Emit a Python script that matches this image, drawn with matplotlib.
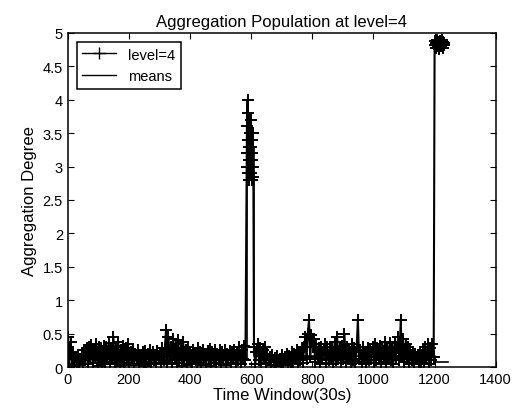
import matplotlib
matplotlib.use("Agg")
import matplotlib.pyplot as plt
import numpy as np

# Time window indices (30s windows) and aggregation degree readings
noise1_x = np.arange(1, 582, 4)
noise1_y = [0.45, 0.05, 0.38, 0.12, 0.22,
            0.02, 0.15, 0.08, 0.18, 0.03, 0.12, 0.2, 0.05, 0.25, 0.1,
            0.28, 0.04, 0.3, 0.12, 0.33, 0.06, 0.25, 0.15, 0.35, 0.02, 0.3, 0.1, 0.28, 0.05, 0.32,
            0.08, 0.3, 0.12, 0.36, 0.04, 0.28, 0.14, 0.45, 0.06, 0.3, 0.1, 0.38, 0.02, 0.25, 0.15,
            0.32, 0.05, 0.28, 0.1, 0.35,
            0.06, 0.22, 0.12, 0.25, 0.03, 0.2, 0.1, 0.26, 0.05, 0.18, 0.14, 0.22, 0.02, 0.24, 0.08,
            0.2, 0.12, 0.25, 0.04, 0.22, 0.1, 0.18, 0.06, 0.24, 0.12,
            0.2, 0.05, 0.28, 0.1, 0.25, 0.55, 0.08, 0.45, 0.15, 0.3, 0.04, 0.42, 0.12, 0.35, 0.06,
            0.4, 0.1, 0.28, 0.02, 0.38, 0.14, 0.25, 0.05, 0.3, 0.1,
            0.22, 0.04, 0.26, 0.12, 0.2, 0.06, 0.28, 0.1, 0.22, 0.03, 0.25, 0.14, 0.2, 0.05, 0.24,
            0.1, 0.27, 0.02, 0.22, 0.12, 0.25, 0.06, 0.2, 0.1, 0.26,
            0.05, 0.22, 0.12, 0.25, 0.03, 0.2, 0.1, 0.24, 0.06, 0.22, 0.14, 0.26, 0.04, 0.2, 0.1,
            0.3, 0.05, 0.25, 0.12, 0.32, 0.1]

spike_x = np.arange(585, 608)
spike_y = [3.0, 3.6, 3.2, 4.0, 2.9, 3.4, 3.8, 3.1, 3.3, 2.8, 3.5, 3.0,
           3.2, 3.7, 2.9, 3.3, 3.1, 3.4, 2.8, 3.2, 3.5, 3.0, 2.85]

noise2_x = np.arange(609, 1198, 4)
noise2_y = [0.3, 0.05, 0.22, 0.35, 0.1, 0.28, 0.04, 0.25, 0.12, 0.3, 0.06, 0.2, 0.1,
            0.15, 0.03, 0.18, 0.08, 0.14, 0.02, 0.16, 0.1, 0.12, 0.04, 0.18, 0.06, 0.15, 0.1,
            0.2, 0.03, 0.17, 0.08, 0.22, 0.05, 0.2, 0.12, 0.25, 0.04, 0.22,
            0.1, 0.28, 0.06, 0.3, 0.45, 0.12, 0.5, 0.7, 0.15, 0.48, 0.3, 0.42, 0.08, 0.35, 0.12,
            0.28, 0.05, 0.3, 0.14, 0.25, 0.35, 0.06, 0.3, 0.1, 0.26,
            0.12, 0.3, 0.04, 0.38, 0.1, 0.45, 0.15, 0.28, 0.06, 0.32, 0.12, 0.5, 0.08, 0.3, 0.14,
            0.26, 0.04, 0.35, 0.1, 0.28, 0.06, 0.3, 0.7, 0.12, 0.25,
            0.08, 0.3, 0.12, 0.22, 0.04, 0.28, 0.1, 0.25, 0.15, 0.3, 0.06, 0.35, 0.1, 0.28, 0.14,
            0.32, 0.05, 0.3, 0.12, 0.38, 0.08, 0.3, 0.15, 0.36, 0.1,
            0.3, 0.05, 0.38, 0.12, 0.28, 0.45, 0.1, 0.7, 0.15, 0.42, 0.08, 0.35, 0.12, 0.3, 0.04,
            0.25, 0.1, 0.22, 0.06, 0.2, 0.12, 0.18, 0.04, 0.22, 0.08,
            0.25, 0.06, 0.3, 0.12, 0.35, 0.05, 0.28, 0.1, 0.35, 0.15]

top_x = np.arange(1200, 1234, 2)
top_y = [4.82, 4.88, 4.78, 4.85, 4.9, 4.8, 4.86, 4.76, 4.84,
         4.88, 4.8, 4.83, 4.9, 4.78, 4.86, 4.82, 4.85]

# segment means (step line)
means_edges = [1, 585, 608, 1200, 1245]
means_vals = [0.14, 3.3, 0.16, 0.07, 0.07]

x = np.concatenate([noise1_x, spike_x, noise2_x, top_x])
y = np.concatenate([noise1_y, spike_y, noise2_y, top_y])

plt.rcParams['font.family'] = ['Liberation Sans', 'DejaVu Sans']

fig = plt.figure(figsize=(5.18, 4.14), dpi=100)
ax = fig.add_axes([0.131, 0.111, 0.826, 0.807])

ax.plot(x, y, color='black', linewidth=1.5, marker='+', markersize=8,
        markeredgewidth=1.4, label='level=4')
ax.plot(means_edges, means_vals, color='black', linewidth=1.2,
        drawstyle='steps-post', label='means')

ax.set_xlim(0, 1400)
ax.set_ylim(0, 5)
ax.set_xticks(np.arange(0, 1401, 200))
ax.set_yticks(np.arange(0, 5.01, 0.5))
ax.set_yticklabels(['0', '0.5', '1', '1.5', '2', '2.5', '3', '3.5', '4', '4.5', '5'])
ax.tick_params(direction='in', top=True, right=True, labelsize=10.5, length=4)
for s in ax.spines.values():
    s.set_linewidth(1.1)

ax.set_title('Aggregation Population at level=4', fontsize=12, pad=5)
ax.set_xlabel('Time Window(30s)', fontsize=12, labelpad=1)
ax.set_ylabel('Aggregation Degree', fontsize=12, labelpad=4)

leg = ax.legend(loc='upper left', fontsize=10.5, fancybox=False, framealpha=1,
                edgecolor='black', handlelength=2.3, borderaxespad=0.6)
leg.get_frame().set_linewidth(1.1)
for h in leg.get_lines():
    h.set_linewidth(1.0)
    h.set_markeredgewidth(1.0)

fig.savefig('out.png', dpi=100)
